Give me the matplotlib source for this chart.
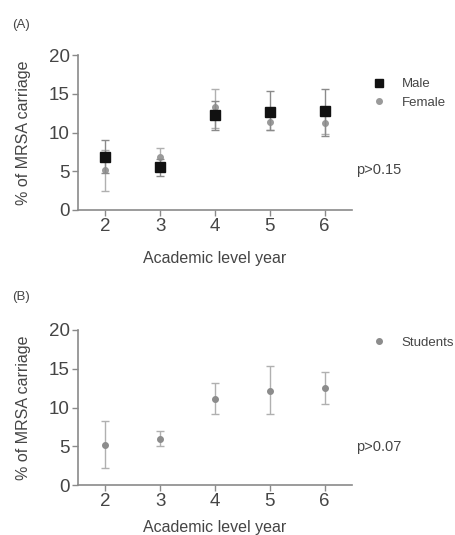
import matplotlib
matplotlib.use("Agg")
import matplotlib.pyplot as plt
from matplotlib.lines import Line2D
import numpy as np

years = [2, 3, 4, 5, 6]
male_mean = [6.9, 5.5, 12.2, 12.7, 12.8]
male_lo = [4.8, 4.4, 10.3, 10.3, 9.5]
male_hi = [9.0, 6.6, 14.1, 15.3, 15.6]
female_mean = [5.1, 6.9, 13.3, 11.3, 11.2]
female_lo = [2.5, 5.8, 10.6, 10.3, 9.8]
female_hi = [7.7, 8.0, 15.6, 12.3, 12.6]
stud_mean = [5.2, 6.0, 11.1, 12.1, 12.5]
stud_lo = [2.2, 5.0, 9.1, 9.1, 10.5]
stud_hi = [8.2, 7.0, 13.1, 15.3, 14.6]
yticks = [0, 5, 10, 15, 20]

W, H = 456, 535
fig = plt.figure(figsize=(W / 100, H / 100), dpi=100)
plt.rcParams['font.family'] = ['Liberation Sans', 'DejaVu Sans']

spine_c = '#8a8a8a'
text_c = '#454545'

def style(ax, xpad):
    ax.set_xlim(1.5, 6.5)
    ax.set_ylim(0, 20)
    ax.set_xticks(years)
    ax.set_yticks(yticks)
    for s in ['top', 'right']:
        ax.spines[s].set_visible(False)
    for s in ['left', 'bottom']:
        ax.spines[s].set_color(spine_c)
        ax.spines[s].set_linewidth(1.2)
    ax.tick_params(colors=spine_c, labelcolor=text_c, labelsize=13.5, length=4, width=1.0,
                   pad=2)
    ax.set_xlabel('Academic level year', fontsize=11.5, color=text_c, labelpad=xpad)
    ax.set_ylabel('% of MRSA carriage', fontsize=11.5, color=text_c, labelpad=13)

def errs(m, lo, hi):
    m = np.array(m); lo = np.array(lo); hi = np.array(hi)
    return np.vstack([m - lo, hi - m])

# Panel A
axA = fig.add_axes([78 / W, 1 - 210 / H, (352 - 78) / W, 155 / H])
style(axA, 11)
axA.errorbar(years, female_mean, yerr=errs(female_mean, female_lo, female_hi), fmt='o',
             color='#9a9a9a', ecolor='#b0b0b0', elinewidth=1, capsize=3, markersize=4,
             clip_on=False, zorder=2)
axA.errorbar(years, male_mean, yerr=errs(male_mean, male_lo, male_hi), fmt='s',
             color='#111111', ecolor='#8a8a8a', elinewidth=1, capsize=3, markersize=6.5,
             clip_on=False, zorder=3)
hA = [Line2D([], [], ls='none', marker='s', color='#111111', markersize=6),
      Line2D([], [], ls='none', marker='o', color='#9a9a9a', markersize=4)]
axA.legend(hA, ['Male', 'Female'], loc='upper left', bbox_to_anchor=(1.06, 0.885),
           frameon=False, fontsize=9.5, handlelength=0.8, handletextpad=1.3,
           labelspacing=0.45, labelcolor=text_c, borderaxespad=0)
fig.text(356 / W, 1 - 170 / H, 'p>0.15', fontsize=10.5, color=text_c, va='center')
fig.text(12 / W, 1 - 25 / H, '(A)', fontsize=9.5, color=text_c, va='center')

# Panel B
axB = fig.add_axes([78 / W, 1 - 485 / H, (352 - 78) / W, 155 / H])
style(axB, 7)
axB.errorbar(years, stud_mean, yerr=errs(stud_mean, stud_lo, stud_hi), fmt='o',
             color='#8c8c8c', ecolor='#b0b0b0', elinewidth=1, capsize=3, markersize=4,
             clip_on=False)
hB = [Line2D([], [], ls='none', marker='o', color='#8c8c8c', markersize=4)]
axB.legend(hB, ['Students'], loc='upper left', bbox_to_anchor=(1.06, 0.99), frameon=False,
           fontsize=9.5, handlelength=0.8, handletextpad=1.3, labelcolor=text_c,
           borderaxespad=0)
fig.text(356 / W, 1 - 447 / H, 'p>0.07', fontsize=10.5, color=text_c, va='center')
fig.text(12 / W, 1 - 297 / H, '(B)', fontsize=9.5, color=text_c, va='center')

fig.savefig('out.png', dpi=100)
